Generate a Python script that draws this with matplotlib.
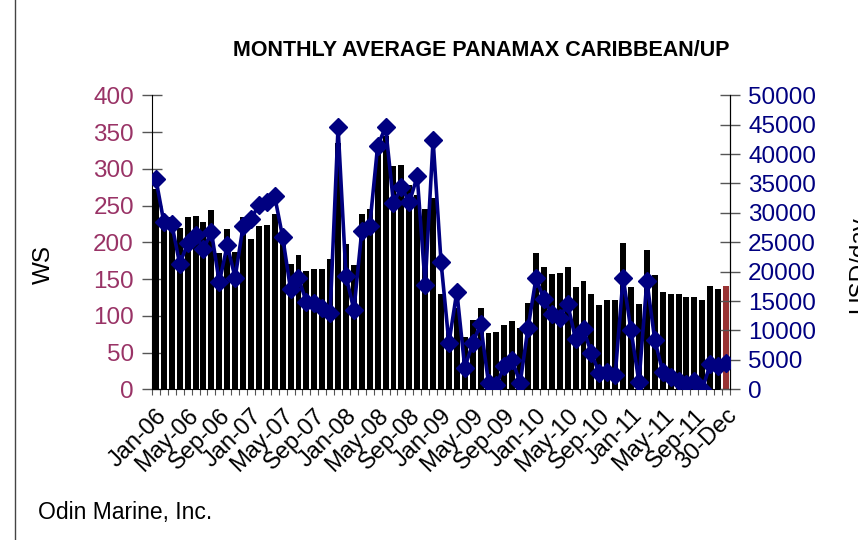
import numpy as np
import matplotlib
matplotlib.use("Agg")
import matplotlib.pyplot as plt
from matplotlib.lines import Line2D

plt.rcParams['font.family'] = ['Liberation Sans', 'DejaVu Sans']

# WS (left axis), monthly Jan-06 .. Dec-11 plus the 30-Dec reading
ws = [273, 235, 235, 219, 234, 236, 228, 244, 185, 218, 187, 234,
      205, 222, 224, 238, 200, 171, 183, 161, 164, 164, 177, 335,
      198, 169, 238, 245, 321, 345, 304, 305, 278, 264, 245, 260,
      129, 82, 111, 71, 94, 111, 76, 78, 88, 93, 84, 118,
      186, 167, 157, 158, 167, 139, 147, 130, 115, 122, 122, 199,
      139, 116, 189, 156, 132, 130, 129, 125, 126, 122, 140, 136,
      140]

# USD/day (right axis)
usd = [35700, 28400, 28100, 21300, 24800, 26300, 23800, 26800, 18200, 24500, 19000, 27700,
       28900, 31400, 31800, 32800, 25900, 17000, 19000, 14800, 14700, 13900, 13000, 44600,
       19300, 13500, 27000, 27800, 41400, 44600, 31600, 34400, 31800, 36200, 17700, 42400,
       21700, 7900, 16600, 3700, 7800, 11100, 1100, 740, 4000, 4900, 1100, 10500,
       18900, 15300, 12750, 12200, 14500, 8500, 10200, 6100, 2700, 3000, 2400, 19000,
       10000, 1250, 18400, 8400, 3000, 2150, 1400, 900, 1400, 0, 4250, 4000,
       4500]

tick_labels = ["Jan-06", "May-06", "Sep-06", "Jan-07", "May-07", "Sep-07",
               "Jan-08", "May-08", "Sep-08", "Jan-09", "May-09", "Sep-09",
               "Jan-10", "May-10", "Sep-10", "Jan-11", "May-11", "Sep-11",
               "30-Dec"]

ws_ticks = [0, 50, 100, 150, 200, 250, 300, 350, 400]
usd_ticks = [0, 5000, 10000, 15000, 20000, 25000, 30000, 35000, 40000, 45000, 50000]

LEFT_COL = '#993366'
NAVY = '#000080'

x = np.arange(len(ws))
bar_colors = ['black'] * (len(ws) - 1) + ['#993333']

fig = plt.figure(figsize=(8.58, 5.40), dpi=100)
ax = fig.add_axes([152 / 858, 1 - 389.3 / 540, (730 - 152) / 858, (389.3 - 95.3) / 540])
ax2 = ax.twinx()

ax.bar(x, ws, width=0.75, color=bar_colors, edgecolor='none', zorder=2)
ax2.plot(x, usd, color=NAVY, linewidth=2.6, marker='D', markersize=9,
         markerfacecolor=NAVY, markeredgecolor=NAVY, zorder=3)

ax.set_xlim(-0.5, len(ws) - 0.5)
ax.set_ylim(0, 400)
ax2.set_ylim(0, 50000)

ax.set_yticks(ws_ticks)
ax.set_yticklabels([str(v) for v in ws_ticks], color=LEFT_COL, fontsize=17.5)
ax2.set_yticks(usd_ticks)
ax2.set_yticklabels([str(v) for v in usd_ticks], color=NAVY, fontsize=17.5)

ax.set_xticks(x[::4])
ax.set_xticklabels(tick_labels, rotation=45, ha='right', rotation_mode='anchor',
                   fontsize=17)
ax.set_xticks(np.arange(-0.5, len(ws), 1), minor=True)
ax.tick_params(axis='x', which='major', length=0, pad=11)
ax.tick_params(axis='x', which='minor', length=4, width=0.8, color='#555555')
ax.tick_params(axis='y', direction='inout', length=14, width=1, color='#555555', pad=6)
ax2.tick_params(axis='y', direction='inout', length=14, width=1, color='#555555', pad=6)

for a in (ax, ax2):
    a.spines['top'].set_visible(False)
ax2.spines['left'].set_visible(False)
ax2.spines['bottom'].set_visible(False)
ax.set_zorder(1)
ax2.set_zorder(2)
ax2.patch.set_visible(False)

fig.text(44 / 858, 1 - 265 / 540, 'WS', rotation=90, fontsize=17.5,
         ha='center', va='center')
fig.text(848 / 858, 1 - 265 / 540, 'USD/day', rotation=90, fontsize=17.5,
         ha='left', va='center')
fig.text(481 / 858, 1 - 51 / 540, 'MONTHLY AVERAGE PANAMAX CARIBBEAN/UP',
         fontsize=15.5, fontweight='bold', ha='center', va='center')
fig.text(38 / 858, 1 - 513 / 540, 'Odin Marine, Inc.', fontsize=16.5,
         ha='left', va='center')

fig.add_artist(Line2D([15 / 858, 15 / 858], [0, 1], color='#444444', linewidth=1))

fig.savefig('out.png', dpi=100, facecolor='white')
